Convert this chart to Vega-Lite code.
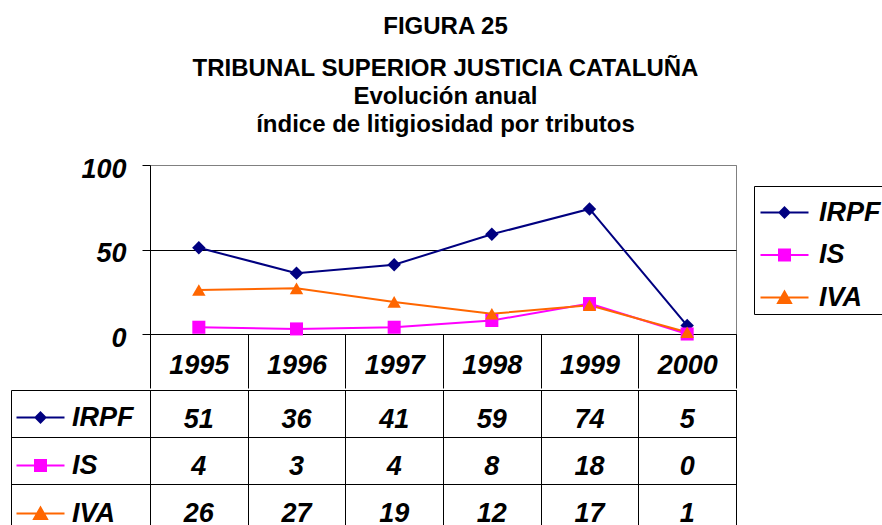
{
  "$schema": "https://vega.github.io/schema/vega-lite/v6.json",
  "background": "white",
  "padding": {"left": 10, "top": 14, "right": 0, "bottom": 0},
  "spacing": 0,
  "title": {
    "text": "FIGURA 25",
    "subtitle": ["TRIBUNAL SUPERIOR JUSTICIA CATALUÑA", "Evolución anual", "índice de litigiosidad por tributos"],
    "font": "Liberation Sans", "fontSize": 24, "fontWeight": "bold", "color": "#000000",
    "subtitleFont": "Liberation Sans", "subtitleFontSize": 24, "subtitleFontWeight": "bold", "subtitleColor": "#000000",
    "subtitlePadding": 18, "subtitleLineHeight": 28, "anchor": "middle", "offset": 18, "dx": -2
  },
  "datasets": {
    "d": [
      {"year": "1995", "serie": "IRPF", "value": 51},
      {"year": "1996", "serie": "IRPF", "value": 36},
      {"year": "1997", "serie": "IRPF", "value": 41},
      {"year": "1998", "serie": "IRPF", "value": 59},
      {"year": "1999", "serie": "IRPF", "value": 74},
      {"year": "2000", "serie": "IRPF", "value": 5},
      {"year": "1995", "serie": "IS", "value": 4},
      {"year": "1996", "serie": "IS", "value": 3},
      {"year": "1997", "serie": "IS", "value": 4},
      {"year": "1998", "serie": "IS", "value": 8},
      {"year": "1999", "serie": "IS", "value": 18},
      {"year": "2000", "serie": "IS", "value": 0},
      {"year": "1995", "serie": "IVA", "value": 26},
      {"year": "1996", "serie": "IVA", "value": 27},
      {"year": "1997", "serie": "IVA", "value": 19},
      {"year": "1998", "serie": "IVA", "value": 12},
      {"year": "1999", "serie": "IVA", "value": 17},
      {"year": "2000", "serie": "IVA", "value": 1}
    ]
  },
  "vconcat": [
    {
      "width": 586,
      "height": 169,
      "view": {"stroke": "#808080"},
      "data": {"name": "d"},
      "encoding": {
        "x": {
          "field": "year", "type": "nominal",
          "scale": {"type": "band", "paddingInner": 0, "paddingOuter": 0},
          "axis": {
            "title": null, "orient": "bottom", "tickBand": "extent", "tickSize": 54, "tickColor": "#000000",
            "domainColor": "#000000", "grid": false, "labelAngle": 0,
            "labelFont": "Liberation Sans", "labelFontSize": 27, "labelFontWeight": "bold", "labelFontStyle": "italic",
            "labelColor": "#000000", "labelBaseline": "middle", "labelPadding": -23, "labelOverlap": false, "labelFlush": false
          }
        },
        "y": {
          "field": "value", "type": "quantitative",
          "scale": {"domain": [0, 100], "nice": false},
          "axis": {
            "title": null, "values": [0, 50, 100], "grid": true,
            "gridColor": {"condition": {"test": "datum.value === 100", "value": "#808080"}, "value": "#000000"},
            "domainColor": "#000000", "tickColor": "#000000", "tickSize": 8,
            "labelFont": "Liberation Sans", "labelFontSize": 27, "labelFontWeight": "bold", "labelFontStyle": "italic",
            "labelColor": "#000000", "labelPadding": 16, "labelOffset": 4
          }
        },
        "color": {
          "field": "serie", "type": "nominal",
          "scale": {"domain": ["IRPF", "IS", "IVA"], "range": ["#000080", "#FF00FF", "#FF6600"]},
          "legend": {
            "orient": "none", "legendX": 604, "legendY": 21, "title": " ", "titleFontSize": 6, "titlePadding": 4, "padding": 3,
            "strokeColor": "#000000", "fillColor": "#ffffff",
            "symbolSize": 400, "symbolOffset": 14, "labelOffset": 21, "rowPadding": 14.5,
            "symbolType": {"expr": "datum.value === 'IRPF' ? 'M-2.4,0H2.4M0,-0.5L0.5,0L0,0.5L-0.5,0Z' : datum.value === 'IS' ? 'M-2.4,0H2.4M-0.55,-0.55H0.55V0.55H-0.55Z' : 'M-2.4,0H2.4M0,-0.6L0.65,0.55L-0.65,0.55Z'"},
            "symbolFillColor": {"expr": "datum.value === 'IRPF' ? '#000080' : datum.value === 'IS' ? '#FF00FF' : '#FF6600'"},
            "symbolStrokeColor": {"expr": "datum.value === 'IRPF' ? '#000080' : datum.value === 'IS' ? '#FF00FF' : '#FF6600'"},
            "symbolStrokeWidth": 2, "symbolOpacity": 1,
            "labelFont": "Liberation Sans", "labelFontSize": 27, "labelFontWeight": "bold", "labelFontStyle": "italic", "labelColor": "#000000"
          }
        }
      },
      "layer": [
        {"mark": {"type": "line", "strokeWidth": 2}},
        {
          "transform": [{"filter": "datum.serie === 'IRPF'"}],
          "mark": {"type": "point", "shape": "diamond", "filled": true, "opacity": 1, "size": 180}
        },
        {
          "transform": [{"filter": "datum.serie === 'IS'"}],
          "mark": {"type": "point", "shape": "square", "filled": true, "opacity": 1, "size": 170}
        },
        {
          "transform": [{"filter": "datum.serie === 'IVA'"}],
          "mark": {"type": "point", "shape": "triangle-up", "filled": true, "opacity": 1, "size": 180}
        }
      ]
    },
    {
      "width": 586,
      "height": 141,
      "view": {"stroke": "#000000"},
      "data": {"name": "d"},
      "encoding": {
        "x": {
          "field": "year", "type": "nominal",
          "scale": {"type": "band", "paddingInner": 0, "paddingOuter": 0},
          "axis": {"title": null, "labels": false, "ticks": false, "domain": false, "grid": true, "tickBand": "extent", "gridColor": "#000000"}
        },
        "y": {
          "field": "serie", "type": "nominal",
          "scale": {"type": "band", "domain": ["IRPF", "IS", "IVA"], "paddingInner": 0, "paddingOuter": 0},
          "axis": {"title": null, "labels": false, "grid": true, "gridColor": "#000000", "tickBand": "extent", "tickSize": 139, "tickColor": "#000000", "domainColor": "#000000"}
        }
      },
      "layer": [
        {
          "mark": {"type": "text", "font": "Liberation Sans", "fontSize": 27, "fontWeight": "bold", "fontStyle": "italic", "dy": 6, "color": "#000000"},
          "encoding": {"text": {"field": "value", "type": "quantitative"}}
        },
        {
          "mark": {"type": "point", "opacity": 0, "filled": true},
          "encoding": {
            "y": {
              "field": "serie", "type": "nominal",
              "scale": {"type": "band", "domain": ["IRPF", "IS", "IVA"], "paddingInner": 0, "paddingOuter": 0},
              "axis": {"title": null, "orient": "left", "offset": 139, "grid": false, "ticks": false, "labels": false, "domain": true, "domainColor": "#000000"}
            },
            "color": {
              "field": "serie", "type": "nominal",
              "scale": {"domain": ["IRPF", "IS", "IVA"], "range": ["#000080", "#FF00FF", "#FF6600"]},
              "legend": {
                "orient": "none", "legendX": -129, "legendY": 14, "title": null, "padding": 0,
                "symbolSize": 400, "symbolOffset": 6, "labelOffset": 18, "rowPadding": 20,
                "symbolType": {"expr": "datum.value === 'IRPF' ? 'M-2.4,0H2.4M0,-0.5L0.5,0L0,0.5L-0.5,0Z' : datum.value === 'IS' ? 'M-2.4,0H2.4M-0.55,-0.55H0.55V0.55H-0.55Z' : 'M-2.4,0H2.4M0,-0.6L0.65,0.55L-0.65,0.55Z'"},
                "symbolFillColor": {"expr": "datum.value === 'IRPF' ? '#000080' : datum.value === 'IS' ? '#FF00FF' : '#FF6600'"},
                "symbolStrokeColor": {"expr": "datum.value === 'IRPF' ? '#000080' : datum.value === 'IS' ? '#FF00FF' : '#FF6600'"},
                "symbolStrokeWidth": 2, "symbolOpacity": 1,
                "labelFont": "Liberation Sans", "labelFontSize": 27, "labelFontWeight": "bold", "labelFontStyle": "italic", "labelColor": "#000000"
              }
            }
          }
        }
      ],
      "resolve": {"axis": {"y": "independent"}}
    }
  ],
  "resolve": {
    "scale": {"x": "independent", "y": "independent", "color": "independent"},
    "legend": {"color": "independent"}
  },
  "config": {"font": "Liberation Sans"}
}
